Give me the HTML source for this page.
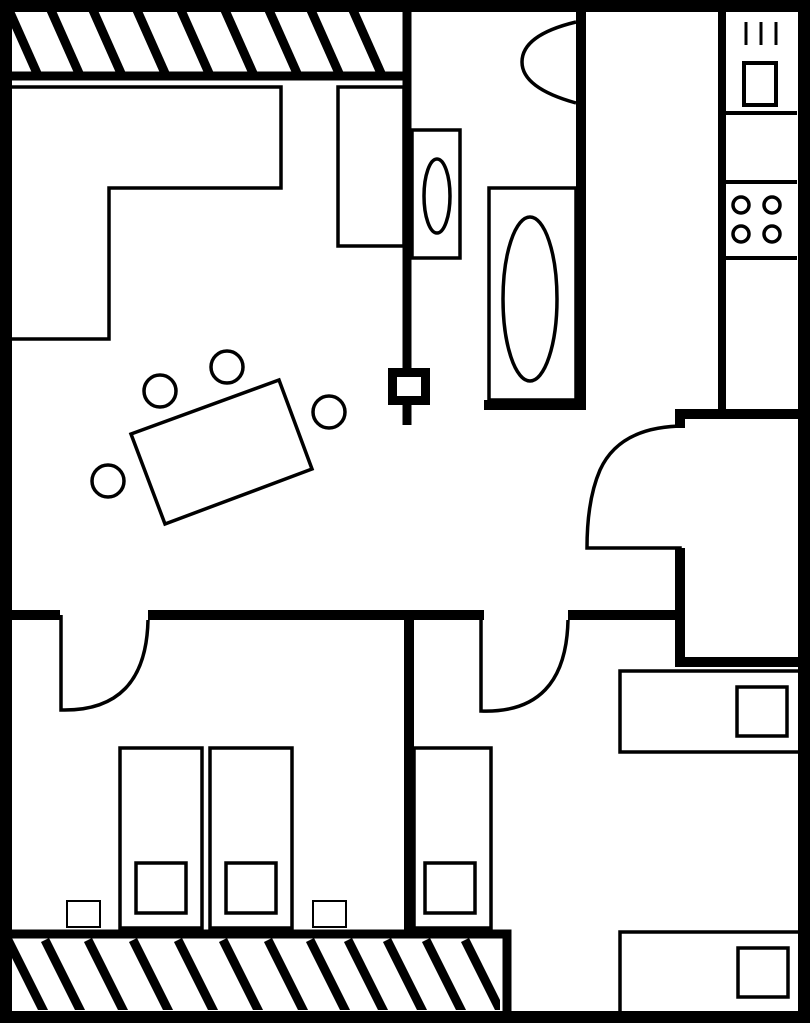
<!DOCTYPE html>
<html><head><style>html,body{margin:0;padding:0;background:#fff}svg{display:block}</style></head>
<body>
<svg width="810" height="1024" viewBox="0 0 810 1024" xmlns="http://www.w3.org/2000/svg" fill="none" stroke="#000">
<defs>
<clipPath id="h1"><rect x="12" y="12" width="392" height="60"/></clipPath>
<clipPath id="h2"><rect x="12" y="938" width="488" height="72"/></clipPath>
</defs>
<!-- outer walls -->
<rect x="6" y="6" width="798" height="1011" stroke-width="12"/>
<!-- top hatch -->
<g clip-path="url(#h1)" stroke-width="9">
<line x1="8" y1="8" x2="40" y2="80"/><line x1="50" y1="8" x2="82" y2="80"/><line x1="92" y1="8" x2="124" y2="80"/>
<line x1="136" y1="8" x2="168" y2="80"/><line x1="180" y1="8" x2="212" y2="80"/><line x1="224" y1="8" x2="256" y2="80"/>
<line x1="268" y1="8" x2="300" y2="80"/><line x1="310" y1="8" x2="342" y2="80"/><line x1="352" y1="8" x2="384" y2="80"/>
</g>
<line x1="12" y1="76" x2="404" y2="76" stroke-width="9"/>
<!-- kitchen partition wall -->
<line x1="407" y1="12" x2="407" y2="425" stroke-width="9"/>
<rect x="388" y="368" width="42" height="37" fill="#000" stroke="none"/>
<rect x="397" y="377" width="24" height="19" fill="#fff" stroke="none"/>
<!-- L counter -->
<path d="M12 87 H281 V188 H109 V339 H12" stroke-width="3.5"/>
<rect x="338" y="87" width="66" height="159" stroke-width="3.5"/>
<rect x="412" y="130" width="48" height="128" stroke-width="3.5"/>
<ellipse cx="437" cy="196" rx="13" ry="37" stroke-width="3.5"/>
<!-- bathroom -->
<line x1="581" y1="12" x2="581" y2="410" stroke-width="10"/>
<line x1="484" y1="405" x2="586" y2="405" stroke-width="10"/>
<path d="M576 22 Q522 35 522 62 Q522 88 576 103" stroke-width="3.5"/>
<rect x="489" y="188" width="87" height="212" stroke-width="3.5"/>
<ellipse cx="530" cy="299" rx="27" ry="82" stroke-width="3.5"/>
<!-- kitchen column -->
<line x1="722" y1="12" x2="722" y2="410" stroke-width="8"/>
<path d="M680 428 V414 H800" stroke-width="10"/>
<line x1="726" y1="113" x2="797" y2="113" stroke-width="4"/>
<line x1="726" y1="182" x2="797" y2="182" stroke-width="4"/>
<line x1="726" y1="258" x2="797" y2="258" stroke-width="4"/>
<line x1="746" y1="22" x2="746" y2="45" stroke-width="3"/>
<line x1="761" y1="22" x2="761" y2="45" stroke-width="3"/>
<line x1="776" y1="22" x2="776" y2="45" stroke-width="3"/>
<rect x="744" y="63" width="32" height="42" stroke-width="4"/>
<circle cx="741" cy="205" r="8" stroke-width="3.5"/><circle cx="772" cy="205" r="8" stroke-width="3.5"/>
<circle cx="741" cy="234" r="8" stroke-width="3.5"/><circle cx="772" cy="234" r="8" stroke-width="3.5"/>
<!-- entrance door -->
<path d="M685 426 Q620 426 600 470 Q587 500 587 548 H680 V662 H804" stroke-width="3.5"/>
<line x1="680" y1="548" x2="680" y2="662" stroke-width="10"/>
<line x1="675" y1="662" x2="804" y2="662" stroke-width="10"/>
<!-- dining -->
<polygon points="131,434 279,380 312,469 165,524" stroke-width="3.5"/>
<circle cx="160" cy="391" r="16" stroke-width="3.5"/>
<circle cx="227" cy="367" r="16" stroke-width="3.5"/>
<circle cx="329" cy="412" r="16" stroke-width="3.5"/>
<circle cx="108" cy="481" r="16" stroke-width="3.5"/>
<!-- middle horizontal wall -->
<line x1="12" y1="615" x2="60" y2="615" stroke-width="10"/>
<line x1="148" y1="615" x2="484" y2="615" stroke-width="10"/>
<line x1="568" y1="615" x2="680" y2="615" stroke-width="10"/>
<path d="M61 615 V710 Q146 712 148 620" stroke-width="3.5"/>
<path d="M481 615 V711 Q566 714 568 620" stroke-width="3.5"/>
<line x1="409" y1="615" x2="409" y2="932" stroke-width="10"/>
<!-- bottom hatch -->
<g clip-path="url(#h2)" stroke-width="9">
<line x1="8" y1="940" x2="44" y2="1012"/><line x1="45" y1="940" x2="81" y2="1012"/><line x1="88" y1="940" x2="124" y2="1012"/>
<line x1="133" y1="940" x2="169" y2="1012"/><line x1="178" y1="940" x2="214" y2="1012"/><line x1="223" y1="940" x2="259" y2="1012"/>
<line x1="268" y1="940" x2="304" y2="1012"/><line x1="310" y1="940" x2="346" y2="1012"/><line x1="348" y1="940" x2="384" y2="1012"/>
<line x1="387" y1="940" x2="423" y2="1012"/><line x1="426" y1="940" x2="462" y2="1012"/><line x1="465" y1="940" x2="501" y2="1012"/>
</g>
<path d="M12 934 H507 V1012" stroke-width="9"/>
<!-- beds -->
<rect x="120" y="748" width="82" height="180" stroke-width="3.5"/>
<rect x="136" y="863" width="50" height="50" stroke-width="3.5"/>
<rect x="210" y="748" width="82" height="180" stroke-width="3.5"/>
<rect x="226" y="863" width="50" height="50" stroke-width="3.5"/>
<rect x="414" y="748" width="77" height="180" stroke-width="3.5"/>
<rect x="425" y="863" width="50" height="50" stroke-width="3.5"/>
<rect x="67" y="901" width="33" height="26" stroke-width="2"/>
<rect x="313" y="901" width="33" height="26" stroke-width="2"/>
<!-- right room -->
<rect x="620" y="671" width="180" height="81" stroke-width="3.5"/>
<rect x="737" y="687" width="50" height="49" stroke-width="3.5"/>
<rect x="620" y="932" width="180" height="82" stroke-width="3.5"/>
<rect x="738" y="948" width="50" height="49" stroke-width="3.5"/>
</svg>
</body></html>
